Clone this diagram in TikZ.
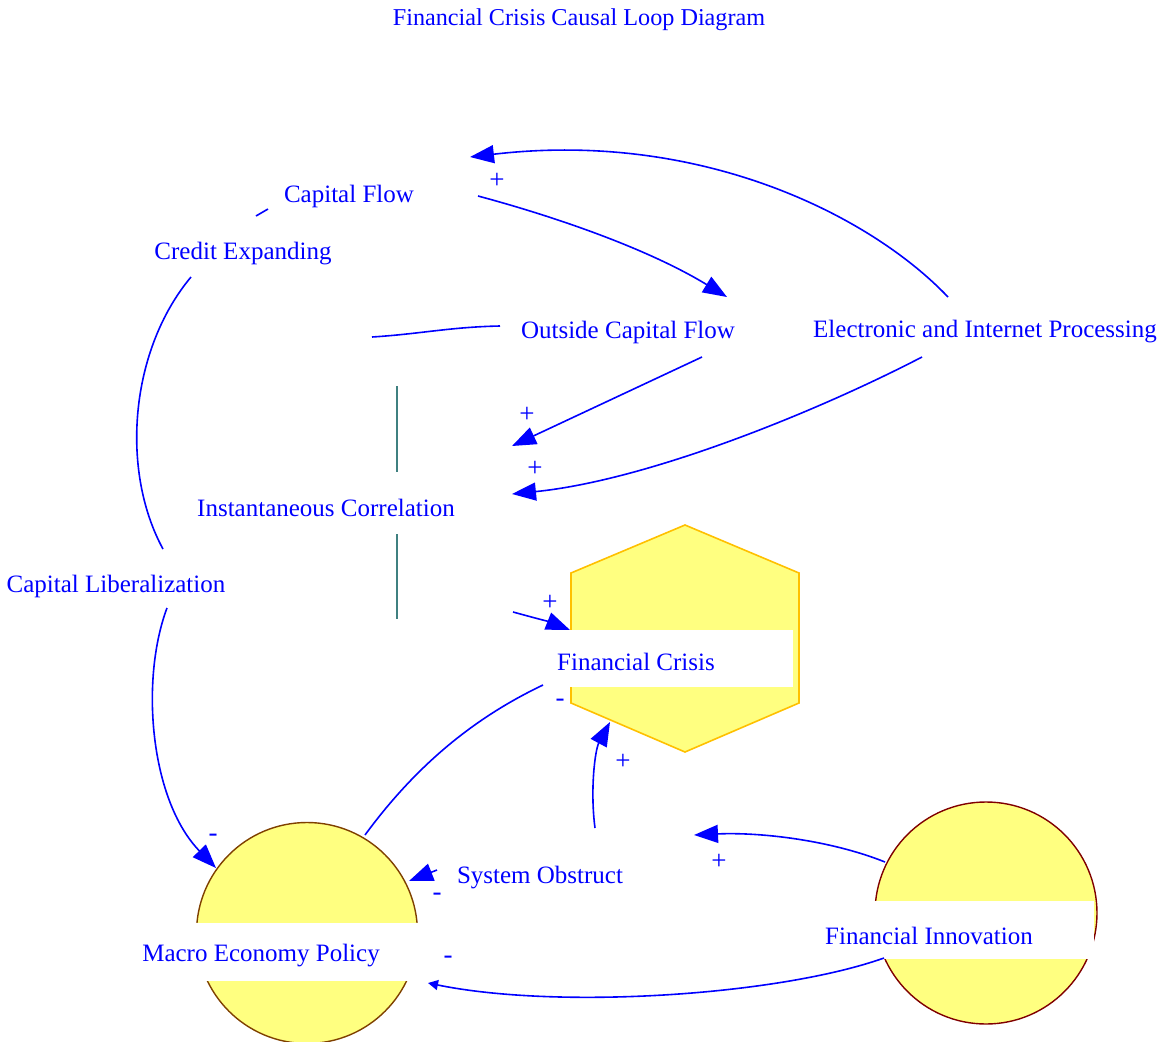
\documentclass[tikz,border=0pt]{standalone}
\usepackage{fontspec}
\setmainfont{Liberation Serif}
\usetikzlibrary{arrows.meta}
\definecolor{linkblue}{HTML}{0000FF}
\definecolor{stockfill}{HTML}{FFFF80}
\definecolor{hexline}{HTML}{FFC000}
\definecolor{macroline}{HTML}{7F4000}
\definecolor{innoline}{HTML}{800000}
\definecolor{tealline}{HTML}{3F8080}
\begin{document}
\begin{tikzpicture}[x=1pt,y=-1pt,
  var/.style={text=linkblue, font=\fontsize{25}{29}\selectfont, inner sep=0pt},
  sign/.style={text=linkblue, font=\fontsize{27}{29}\selectfont, inner sep=0pt},
  link/.style={draw=linkblue, line width=1.6pt},
  linkto/.style={link, -{Triangle[length=24pt,width=18pt]}},
  bar/.style={draw=tealline, line width=2pt}]
\useasboundingbox (0,0) rectangle (1168,1042);
% title
\node[var, font=\fontsize{24.2}{28}\selectfont] (title) at (579,20) {Financial Crisis Causal Loop Diagram};
% shapes
\filldraw[fill=stockfill, draw=hexline, line width=1.6pt]
  (685,525) -- (799,573) -- (799,703) -- (685,752) -- (571,703) -- (571,573) -- cycle;
\node[circle, draw=macroline, fill=stockfill, line width=1.4pt, minimum size=221pt, inner sep=0pt] (macrocirc) at (307,933) {};
\node[circle, draw=innoline, fill=stockfill, line width=1.4pt, minimum size=222pt, inner sep=0pt] (innocirc) at (986,913) {};
\fill[white] (545,630) rectangle (793,687);
\fill[white] (130,923) rectangle (419,981);
\fill[white] (800,901) rectangle (1094,959);
\draw[bar] (397,386) -- (397,472);
\draw[bar] (397,534) -- (397,619);
% variables
\node[var] (capflow) at (349,196) {Capital Flow};
\node[var] (credit) at (243,254) {Credit Expanding};
\node[var] (outflow) at (628,332) {Outside Capital Flow};
\node[var] (eproc) at (985,332) {Electronic and Internet Processing};
\node[var] (instcorr) at (326,508) {Instantaneous Correlation};
\node[var] (capliberal) at (116,586) {Capital Liberalization};
\node[var] (fincrisis) at (636,662) {Financial Crisis};
\node[var] (sysobs) at (540,878) {System Obstruct};
\node[var] (macro) at (261,956) {Macro Economy Policy};
\node[var] (fininno) at (929,936) {Financial Innovation};
% connector ends
\coordinate (eprocUp) at (948,297);
\coordinate (capflowIn) at (470,157);
\coordinate (capflowOut) at (478,196);
\coordinate (outflowIn) at (727,297);
\coordinate (creditTop) at (256,216);
\coordinate (capflowLow) at (268,209);
\coordinate (outflowLeft) at (500,326);
\coordinate (linkStub) at (372,337);
\coordinate (outflowDown) at (702,357);
\coordinate (instIn) at (512,446);
\coordinate (eprocDown) at (922,357);
\coordinate (instIn2) at (512,494);
\coordinate (creditLow) at (191,277);
\coordinate (capliberalTop) at (163,549);
\coordinate (capliberalLow) at (167,608);
\coordinate (macroIn) at (216,868);
\coordinate (instOut) at (513,612);
\coordinate (crisisIn) at (570,630);
\coordinate (crisisOut) at (543,685);
\coordinate (macroTop) at (365,835);
\coordinate (sysobsUp) at (595,828);
\coordinate (crisisIn2) at (610,722);
\coordinate (innoOut) at (885,862);
\coordinate (sysobsIn) at (694,835);
\coordinate (sysobsOut) at (437,870);
\coordinate (macroIn2) at (409,881);
\coordinate (innoOut2) at (884,958);
\coordinate (macroIn3) at (428,983);
% links
\draw[linkto] (eprocUp) .. controls (870,215) and (700,130) .. (capflowIn);
\draw[linkto] (capflowOut) .. controls (560,218) and (650,250) .. (outflowIn);
\draw[link] (creditTop) -- (capflowLow);
\draw[link] (linkStub) .. controls (420,334) and (450,327) .. (outflowLeft);
\draw[linkto] (outflowDown) -- (instIn);
\draw[linkto] (eprocDown) .. controls (820,410) and (650,480) .. (instIn2);
\draw[link] (creditLow) .. controls (130,350) and (120,470) .. (capliberalTop);
\draw[linkto] (capliberalLow) .. controls (140,680) and (150,800) .. (macroIn);
\draw[linkto] (instOut) .. controls (535,618) and (550,622) .. (crisisIn);
\draw[link] (crisisOut) .. controls (480,715) and (420,760) .. (macroTop);
\draw[linkto] (sysobsUp) .. controls (590,790) and (595,750) .. (crisisIn2);
\draw[linkto] (innoOut) .. controls (830,840) and (760,832) .. (sysobsIn);
\draw[linkto] (sysobsOut) -- (macroIn2);
\draw[link, -{Triangle[length=10pt,width=10pt]}] (innoOut2) .. controls (780,995) and (560,1010) .. (macroIn3);
% polarity signs
\node[sign] (s1) at (497,181) {+};
\node[sign] (s2) at (527,415) {+};
\node[sign] (s3) at (535,469) {+};
\node[sign] (s4) at (213,838) {-};
\node[sign] (s5) at (550,603) {+};
\node[sign] (s6) at (560,703) {-};
\node[sign] (s7) at (623,762) {+};
\node[sign] (s8) at (719,862) {+};
\node[sign] (s9) at (437,897) {-};
\node[sign] (s10) at (448,960) {-};
\end{tikzpicture}
\end{document}
